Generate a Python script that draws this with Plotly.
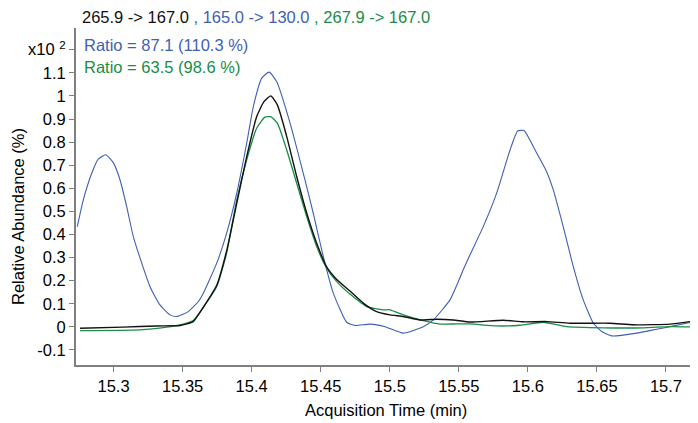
import plotly.graph_objects as go

# ---- data (time in min, abundance in x10^2 %) ----
t_black = [15.2757, 15.3068, 15.3312, 15.3481, 15.3577, 15.3650, 15.3747, 15.3819, 15.3892, 15.3964,
           15.4036, 15.4089, 15.4138, 15.4186, 15.4254, 15.4326, 15.4399, 15.4471, 15.4543, 15.4616,
           15.4712, 15.4808, 15.4905, 15.5002, 15.5098, 15.5219, 15.5340, 15.5460, 15.5581, 15.5822,
           15.5967, 15.6137, 15.6305, 15.6595, 15.6764, 15.7029, 15.7174]
y_black = [-0.006, -0.001, 0.004, 0.006, 0.023, 0.085, 0.180, 0.330, 0.535, 0.737,
           0.910, 0.975, 1.000, 0.961, 0.824, 0.651, 0.492, 0.362, 0.260, 0.205,
           0.155, 0.103, 0.066, 0.052, 0.045, 0.030, 0.033, 0.030, 0.021, 0.029,
           0.022, 0.023, 0.016, 0.016, 0.009, 0.012, 0.023]

t_blue = [15.2737, 15.2781, 15.2842, 15.2889, 15.2943, 15.2998, 15.3047, 15.3095, 15.3143, 15.3204,
          15.3264, 15.3336, 15.3409, 15.3457, 15.3541, 15.3614, 15.3650, 15.3747, 15.3819, 15.3892,
          15.3964, 15.4012, 15.4073, 15.4126, 15.4181, 15.4278, 15.4386, 15.4446, 15.4519, 15.4591,
          15.4688, 15.4748, 15.4857, 15.4966, 15.5098, 15.5243, 15.5315, 15.5436, 15.5532, 15.5581,
          15.5677, 15.5774, 15.5871, 15.5926, 15.5972, 15.6052, 15.6136, 15.6184, 15.6256, 15.6329,
          15.6401, 15.6474, 15.6535, 15.6607, 15.6788, 15.6933, 15.7029, 15.7174]
y_blue = [0.434, 0.550, 0.665, 0.726, 0.745, 0.711, 0.636, 0.521, 0.391, 0.276,
          0.174, 0.095, 0.052, 0.045, 0.066, 0.110, 0.146, 0.276, 0.406, 0.579,
          0.795, 0.954, 1.077, 1.103, 1.062, 0.882, 0.636, 0.492, 0.304, 0.146,
          0.020, 0.006, 0.012, 0.001, -0.027, 0.001, 0.030, 0.117, 0.247, 0.312,
          0.434, 0.579, 0.766, 0.848, 0.850, 0.766, 0.672, 0.593, 0.434, 0.261,
          0.117, 0.016, -0.020, -0.039, -0.027, -0.010, 0.001, 0.019]

t_green = [15.2757, 15.3191, 15.3385, 15.3481, 15.3577, 15.3650, 15.3747, 15.3819, 15.3892, 15.3964,
           15.4036, 15.4096, 15.4138, 15.4186, 15.4254, 15.4326, 15.4399, 15.4471, 15.4543, 15.4616,
           15.4712, 15.4833, 15.4953, 15.5002, 15.5098, 15.5243, 15.5364, 15.5485, 15.5581, 15.5774,
           15.5943, 15.6112, 15.6281, 15.6546, 15.6836, 15.7029, 15.7174]
y_green = [-0.016, -0.013, -0.001, 0.009, 0.028, 0.085, 0.175, 0.320, 0.550, 0.723,
           0.860, 0.908, 0.910, 0.882, 0.766, 0.622, 0.477, 0.348, 0.254, 0.196,
           0.142, 0.088, 0.074, 0.074, 0.052, 0.027, 0.012, 0.013, 0.013, 0.004,
           0.007, 0.020, 0.001, -0.004, -0.004, 0.001, 0.000]

x_ticks = [15.3, 15.35, 15.4, 15.45, 15.5, 15.55, 15.6, 15.65, 15.7]
x_labels = ["15.3", "15.35", "15.4", "15.45", "15.5", "15.55", "15.6", "15.65", "15.7"]
y_ticks = [-0.1, 0, 0.1, 0.2, 0.3, 0.4, 0.5, 0.6, 0.7, 0.8, 0.9, 1.0, 1.1, 1.2]
y_labels = ["-0.1", "0", "0.1", "0.2", "0.3", "0.4", "0.5", "0.6", "0.7", "0.8", "0.9", "1", "1.1",
            "x10 <sup>2</sup>"]

BLACK = "#111111"
BLUE = "#3f5fb4"
GREEN = "#1a8c48"
FONT = "Liberation Sans, Arial, sans-serif"
FS = 16.5

fig = go.Figure()
fig.add_trace(go.Scatter(x=t_blue, y=y_blue, mode="lines",
                         line=dict(color=BLUE, width=1.1, shape="spline", smoothing=0.5)))
fig.add_trace(go.Scatter(x=t_green, y=y_green, mode="lines",
                         line=dict(color=GREEN, width=1.3, shape="spline", smoothing=0.5)))
fig.add_trace(go.Scatter(x=t_black, y=y_black, mode="lines",
                         line=dict(color=BLACK, width=1.4, shape="spline", smoothing=0.5)))

# page body adds an 8px offset; figure is sized so the plot area lands at x 76..690, y 28..365
fig.update_layout(
    width=690, height=415,
    margin=dict(l=68, r=8, t=20, b=58),
    paper_bgcolor="white", plot_bgcolor="white",
    showlegend=False,
    font=dict(family=FONT, size=FS, color="black"),
    xaxis=dict(range=[15.2728, 15.7174], tickvals=x_ticks, ticktext=x_labels,
               showgrid=False, zeroline=False, showline=True, linecolor="#808080", linewidth=2,
               ticks="outside", ticklen=5, tickcolor="#808080", tickwidth=1,
               tickfont=dict(family=FONT, size=FS)),
    yaxis=dict(range=[-0.165, 1.294], tickvals=y_ticks, ticktext=y_labels,
               showgrid=False, zeroline=False, showline=True, linecolor="#808080", linewidth=2,
               ticks="outside", ticklen=5, tickcolor="#808080", tickwidth=1,
               tickfont=dict(family=FONT, size=FS)),
    annotations=[
        dict(xref="paper", yref="paper", x=(80 - 76) / 614, y=(365 - 17) / 337, xanchor="left", yanchor="middle",
             showarrow=False, font=dict(family=FONT, size=FS),
             text=f"<span style='color:{BLACK}'>265.9 -> 167.0</span>"
                  f"<span style='color:{BLUE}'> , 165.0 -> 130.0</span>"
                  f"<span style='color:{GREEN}'> , 267.9 -> 167.0</span>"),
        dict(xref="paper", yref="paper", x=(82 - 76) / 614, y=(365 - 45) / 337, xanchor="left", yanchor="middle",
             showarrow=False, font=dict(family=FONT, size=FS, color=BLUE), text="Ratio = 87.1 (110.3 %)"),
        dict(xref="paper", yref="paper", x=(82 - 76) / 614, y=(365 - 67) / 337, xanchor="left", yanchor="middle",
             showarrow=False, font=dict(family=FONT, size=FS, color=GREEN), text="Ratio = 63.5 (98.6 %)"),
        dict(xref="paper", yref="paper", x=(18 - 76) / 614, y=(365 - 217) / 337, xanchor="center", yanchor="middle",
             showarrow=False, textangle=-90, font=dict(family=FONT, size=FS), text="Relative Abundance (%)"),
        dict(xref="paper", yref="paper", x=(386 - 76) / 614, y=(365 - 410) / 337, xanchor="center", yanchor="middle",
             showarrow=False, font=dict(family=FONT, size=FS), text="Acquisition Time (min)"),
    ],
)

fig.write_html("out.html")
